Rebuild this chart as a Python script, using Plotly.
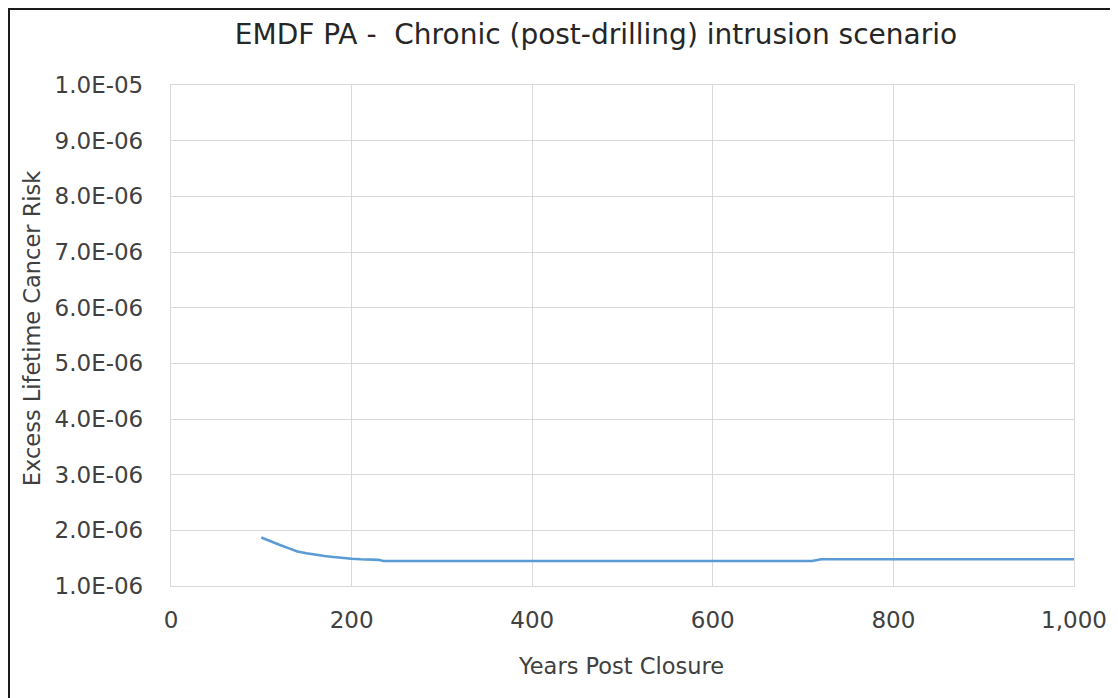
import plotly.graph_objects as go

years = [100, 110, 120, 130, 140, 150, 160, 170, 180, 190, 200, 210, 220, 230, 235, 300, 400, 500, 600, 700, 710, 720, 800, 900, 1000]
risk = [1.87e-6, 1.80e-6, 1.74e-6, 1.68e-6, 1.62e-6, 1.59e-6, 1.56e-6, 1.54e-6, 1.52e-6, 1.50e-6, 1.49e-6,
        1.48e-6, 1.47e-6, 1.47e-6, 1.45e-6, 1.45e-6, 1.45e-6, 1.45e-6, 1.45e-6, 1.45e-6, 1.45e-6, 1.48e-6,
        1.48e-6, 1.48e-6, 1.48e-6]

y_tickvals = [1e-6, 2e-6, 3e-6, 4e-6, 5e-6, 6e-6, 7e-6, 8e-6, 9e-6, 1e-5]
y_ticktext = ["1.0E-06", "2.0E-06", "3.0E-06", "4.0E-06", "5.0E-06",
              "6.0E-06", "7.0E-06", "8.0E-06", "9.0E-06", "1.0E-05"]
x_tickvals = [0, 200, 400, 600, 800, 1000]

title_text = "EMDF PA -  Chronic (post-drilling) intrusion scenario"
x_title = "Years Post Closure"
y_title = "Excess Lifetime Cancer Risk"

FONT = "DejaVu Sans"
TXT = "#404040"
GRID = "#D9D9D9"

# page body adds an 8px offset; compensate in margins
OFF = 8
W, H = 1118, 698
L, R, T, B = 171, 1074, 85, 585.7   # target pixel positions of plot area in the screenshot
PW, PH = R - L, B - T

fig = go.Figure()
fig.add_trace(go.Scatter(x=years, y=risk, mode="lines",
                         line=dict(color="#5B9BD5", width=2.6),
                         showlegend=False, hoverinfo="x+y"))

fig.update_layout(
    width=W, height=H,
    margin=dict(l=L - OFF, r=W - (R - OFF), t=T - OFF, b=H - (B - OFF)),
    paper_bgcolor="white", plot_bgcolor="white",
    font=dict(family=FONT, color=TXT, size=22),
    title=dict(text=title_text, x=(596 - OFF) / W, xref="container", xanchor="center",
               y=1 - (34 - OFF) / H, yref="container", yanchor="middle",
               font=dict(family=FONT, size=28, color="#262626")),
    xaxis=dict(range=[0, 1000], tickvals=x_tickvals, tickformat=",",
               showgrid=True, gridcolor=GRID, gridwidth=1.3,
               showline=True, linecolor=GRID, linewidth=1.3, mirror=True,
               zeroline=False, ticks="", ticklabelstandoff=13,
               tickfont=dict(family=FONT, size=23, color=TXT)),
    yaxis=dict(range=[1e-6, 1e-5], tickvals=y_tickvals, ticktext=y_ticktext,
               showgrid=True, gridcolor=GRID, gridwidth=1.3,
               showline=True, linecolor=GRID, linewidth=1.3, mirror=True,
               zeroline=False, ticks="", ticklabelstandoff=22,
               tickfont=dict(family=FONT, size=23, color=TXT)),
    annotations=[
        dict(text=x_title, xref="paper", yref="paper", x=(621 - L) / PW, y=(B - 666) / PH,
             xanchor="center", yanchor="middle", showarrow=False,
             font=dict(family=FONT, size=22.5, color=TXT)),
        dict(text=y_title, xref="paper", yref="paper", x=(32 - L) / PW, y=(B - 328) / PH,
             xanchor="center", yanchor="middle", showarrow=False, textangle=-90,
             font=dict(family=FONT, size=22.5, color=TXT)),
    ],
    shapes=[
        dict(type="rect", xref="paper", yref="paper",
             x0=(9 - L) / PW, x1=(1135 - L) / PW,
             y0=(B - 715) / PH, y1=(B - 9) / PH,
             line=dict(color="#1a1a1a", width=2), fillcolor="rgba(0,0,0,0)", layer="below"),
    ],
)

fig.write_html("out.html")
